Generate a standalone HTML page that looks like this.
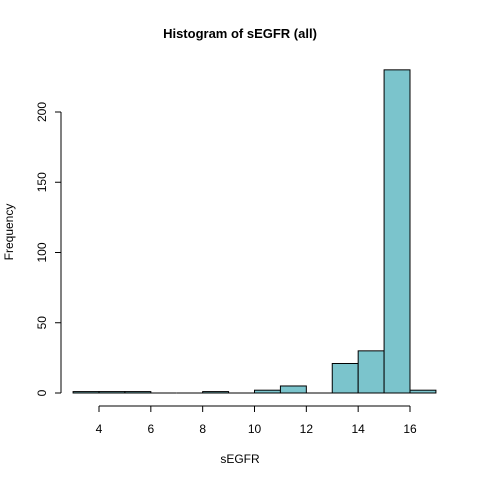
<!DOCTYPE html>
<html><head><meta charset="utf-8"><style>body{margin:0;background:#fff}svg{display:block;font-family:"Liberation Sans",Arial,sans-serif}</style></head>
<body>
<svg id="c" width="480" height="480">
<rect width="480" height="480" fill="#fff"/>
<text x="240" y="38" text-anchor="middle" font-size="13" font-weight="bold">Histogram of sEGFR (all)</text>
<text x="240" y="463" text-anchor="middle" font-size="12">sEGFR</text>
<text transform="translate(13,232) rotate(-90)" text-anchor="middle" font-size="12">Frequency</text>
<g id="bars"></g><g id="xa"></g><g id="ya"></g>
</svg>
<script>
const binStarts=[3,4,5,6,7,8,9,10,11,12,13,14,15,16];
const counts=[1,1,1,0,0,1,0,2,5,0,21,30,230,2];
const xTicks=[4,6,8,10,12,14,16];
const yTicks=[0,50,100,150,200];
const NS='http://www.w3.org/2000/svg';
const X=v=>99+(v-4)*(311/12);
const Y=v=>393-v*(281/200);
function mk(t,a,p){const e=document.createElementNS(NS,t);for(const k in a)e.setAttribute(k,a[k]);p.appendChild(e);return e;}
const bg=document.getElementById('bars');
binStarts.forEach((s,i)=>{
 let r;
 if(counts[i]>0){
  r=mk('rect',{x:X(s),y:Y(counts[i]),width:X(s+1)-X(s),height:Y(0)-Y(counts[i]),fill:'#7bc4cc',stroke:'#000','stroke-width':1},bg);
 } else {
  r=mk('line',{x1:X(s),x2:X(s+1),y1:Y(0),y2:Y(0),stroke:'#000','stroke-width':1},bg);
 }
 
 
});
const xa=document.getElementById('xa');
let l=mk('line',{x1:X(xTicks[0]),x2:X(xTicks[xTicks.length-1]),y1:406,y2:406,stroke:'#000'},xa);


xTicks.forEach(t=>{
 mk('line',{x1:X(t),x2:X(t),y1:406,y2:412,stroke:'#000'},xa);
 const tx=mk('text',{x:X(t),y:433,'text-anchor':'middle','font-size':12},xa);tx.textContent=t;
 
 
});
const ya=document.getElementById('ya');
l=mk('line',{x1:61,x2:61,y1:Y(yTicks[0]),y2:Y(yTicks[yTicks.length-1]),stroke:'#000'},ya);


yTicks.forEach(t=>{
 mk('line',{x1:55,x2:61,y1:Y(t),y2:Y(t),stroke:'#000'},ya);
 const tx=mk('text',{transform:`translate(46,${Y(t)}) rotate(-90)`,'text-anchor':'middle','font-size':12},ya);tx.textContent=t;
 
 
});
</script>
</body></html>
